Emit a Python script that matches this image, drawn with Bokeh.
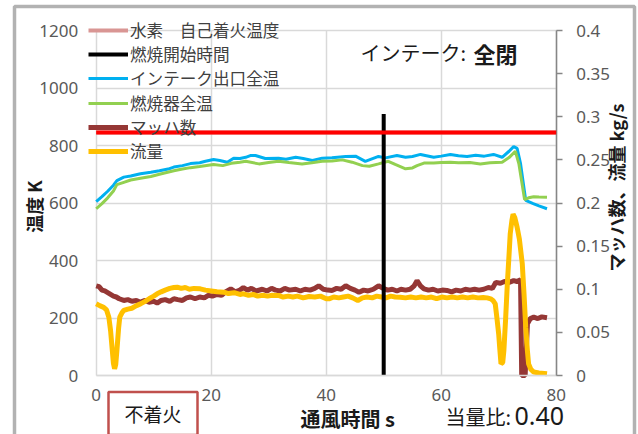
import math
from bokeh.plotting import figure
from bokeh.models import (Range1d, LinearAxis, FixedTicker, NumeralTickFormatter, Grid,
                          Legend, LegendItem, Label, BoxAnnotation)
from bokeh.embed import file_html
from bokeh.resources import INLINE

# ---------------- data ----------------
inlet_t = [0, 1, 2, 3, 3.6, 4.8, 6, 7.7, 9.5, 11, 12.5, 13.5, 15, 16.4, 18, 19, 20.4, 21.5,
           22.8, 23.9, 25, 26, 26.8, 27.7, 29.4, 31.7, 33, 34.7, 36, 37.6, 39.3, 41, 43.4,
           45.1, 46.8, 49.1, 50.3, 52.3, 53.8, 55, 56.4, 58.7, 60, 61.6, 63, 64.5, 66, 67.5,
           69.1, 70.6, 71.8, 72.6, 73.2, 73.8, 74.7, 76, 77, 78.4]
inlet_T = [605, 622, 641, 662, 678, 690, 694, 702, 707, 712, 718, 725, 730, 737, 740, 745, 751, 748,
           742, 756, 755, 759, 765, 765, 755, 756, 752, 759, 755, 748, 756, 757, 762,
           763, 745, 762, 757, 765, 759, 762, 769, 759, 763, 769, 764, 762, 766, 763,
           769, 759, 780, 796, 790, 737, 609, 598, 590, 580]

comb_t = [0, 1, 2, 3, 3.6, 4.8, 6, 7.7, 9.5, 11, 13.5, 15, 16.4, 18, 20.4, 22, 23.5, 25, 26,
          28.3, 30, 31.7, 33.5, 35.8, 37.5, 39.3, 41, 42.8, 44.5, 46.3, 47.5, 49.1, 50.8, 52,
          53.8, 55, 55.8, 57, 58.7, 60, 61.6, 63, 65, 66.8, 68.5, 70.6, 71.8, 72.9, 73.5,
          74.5, 75.2, 76.1, 77, 78.4]
comb_T = [580, 598, 618, 642, 664, 672, 680, 686, 692, 700, 712, 718, 723, 727, 734, 730, 738, 742, 745,
          736, 741, 745, 741, 736, 740, 745, 746, 750, 742, 730, 728, 736, 745, 734,
          719, 722, 730, 739, 739, 741, 742, 740, 741, 736, 740, 742, 758, 780, 737,
          612, 618, 622, 621, 620]

mach_t = [0, 0.5, 1.0, 1.5, 2.0, 2.5, 3.0, 3.5, 4.0, 4.8, 5.5, 6.2, 7.0, 7.7, 8.5, 9.2, 10.0, 10.6,
          11.3, 12.0, 12.8, 13.5, 14.2, 15.0, 15.7, 16.4, 17.2, 18.0, 18.8, 19.5, 20.2, 21.0, 21.8,
          22.5, 23.4, 24.2, 25.0, 25.6, 26.3, 27.0, 27.8, 28.9, 29.7, 30.5, 31.2, 32.0, 32.8, 33.6,
          34.7, 35.5, 36.3, 37.2, 38.0, 38.7, 39.5, 40.3, 41.0, 41.8, 42.6, 43.4, 44.2, 45.0, 45.7,
          46.5, 47.3, 48.2, 49.1, 49.9, 50.7, 51.5, 52.3, 53.0, 53.8, 54.6, 55.3, 55.8, 56.4, 57.0,
          57.8, 58.6, 59.4, 60.2, 61.0, 61.8, 62.6, 63.4, 64.2, 65.0, 65.8, 66.6, 67.4, 68.2, 68.9,
          69.5, 70.3, 71.0, 71.8, 72.6, 73.2, 73.8, 74.0, 74.6, 75.0, 75.5, 76.1, 76.8, 77.5, 78.4]
mach_M = [0.104, 0.103, 0.099, 0.098, 0.096, 0.094, 0.092, 0.091, 0.089, 0.087, 0.088, 0.086, 0.087,
          0.085, 0.087, 0.085, 0.086, 0.084, 0.087, 0.088, 0.086, 0.089, 0.088, 0.087, 0.090, 0.091,
          0.089, 0.091, 0.090, 0.093, 0.092, 0.094, 0.093, 0.097, 0.1005, 0.097, 0.099, 0.102, 0.099,
          0.101, 0.098, 0.100, 0.098, 0.101, 0.099, 0.098, 0.101, 0.099, 0.100, 0.098, 0.100, 0.099,
          0.101, 0.104, 0.100, 0.099, 0.0986, 0.101, 0.100, 0.104, 0.101, 0.099, 0.0966, 0.099, 0.098,
          0.100, 0.104, 0.101, 0.099, 0.100, 0.098, 0.100, 0.099, 0.100, 0.104, 0.110, 0.104, 0.1005,
          0.099, 0.100, 0.098, 0.099, 0.0986, 0.097, 0.099, 0.098, 0.100, 0.099, 0.100, 0.099, 0.100,
          0.102, 0.101, 0.108, 0.107, 0.109, 0.108, 0.110, 0.109, 0.111, 0.0, 0.0, 0.060, 0.066,
          0.0676, 0.066, 0.068, 0.067]

flow_t = [0, 0.6, 1.3, 1.8, 2.2, 2.5, 2.8, 3.0, 3.2, 3.4, 3.6, 3.9, 4.1, 4.5, 4.8, 5.5, 6.2, 7.0,
          7.7, 8.5, 9.2, 10.0, 10.6, 11.3, 12.0, 12.8, 13.5, 14.1, 14.8, 15.5, 16.2, 17.0, 18.1,
          19.0, 20.0, 21.0, 22.2, 23.0, 24.0, 25.0, 25.6, 26.5, 27.3, 28.1, 29.0, 29.8, 30.6, 31.7,
          32.5, 33.4, 34.2, 35.0, 36.0, 37.0, 38.0, 39.0, 40.0, 40.5, 41.3, 42.2, 43.0, 43.8, 44.6,
          45.5, 46.3, 47.1, 48.0, 48.8, 49.6, 50.4, 51.2, 52.0, 52.9, 53.8, 54.7, 55.6, 56.5, 57.4,
          58.3, 59.2, 60.1, 61.0, 61.9, 62.8, 63.7, 64.6, 65.5, 66.4, 67.3, 68.0, 68.6, 69.0, 69.4,
          69.7, 70.0, 70.2, 70.4, 70.7, 70.9, 71.2, 71.5, 71.8, 72.0, 72.3, 72.5, 72.8, 73.2, 73.6,
          74.1, 74.4, 74.7, 75.0, 75.2, 75.6, 76.1, 77.0, 78.4]
flow_F = [0.0831, 0.081, 0.079, 0.076, 0.0676, 0.052, 0.029, 0.014, 0.0078, 0.013, 0.029, 0.055,
          0.0676, 0.073, 0.0754, 0.077, 0.078, 0.081, 0.083, 0.086, 0.089, 0.092, 0.0947, 0.097,
          0.099, 0.101, 0.102, 0.1024, 0.101, 0.102, 0.100, 0.101, 0.1005, 0.099, 0.098, 0.097,
          0.0966, 0.095, 0.096, 0.094, 0.0947, 0.093, 0.094, 0.092, 0.093, 0.092, 0.093, 0.0928,
          0.091, 0.092, 0.091, 0.092, 0.090, 0.0916, 0.091, 0.092, 0.089, 0.0889, 0.091, 0.090,
          0.091, 0.092, 0.090, 0.087, 0.090, 0.091, 0.090, 0.092, 0.091, 0.090, 0.092, 0.091,
          0.0908, 0.090, 0.091, 0.090, 0.091, 0.090, 0.091, 0.089, 0.091, 0.090, 0.091, 0.090,
          0.091, 0.090, 0.091, 0.090, 0.0905, 0.090, 0.0889, 0.087, 0.083, 0.066, 0.048, 0.030,
          0.0135, 0.015, 0.029, 0.065, 0.106, 0.140, 0.164, 0.180, 0.187, 0.183, 0.172, 0.158,
          0.1295, 0.095, 0.056, 0.028, 0.0135, 0.007, 0.004, 0.003, 0.002]

time_span = [0, 80]              # s, extent of the autoignition line
h2_autoignition_T = [845, 845]   # K
ignition_start_t = [50.0, 50.0]  # s
ignition_line_T = [0, 910]       # K

series_labels = ["水素　自己着火温度", "燃焼開始時間", "インテーク出口全温", "燃焼器全温", "マッハ数", "流量"]
x_ticks = [0, 20, 40, 60, 80]
y_ticks = [0, 200, 400, 600, 800, 1000, 1200]
r_ticks = [0, 0.05, 0.1, 0.15, 0.2, 0.25, 0.3, 0.35, 0.4]
x_bounds = (0, 80)
y_bounds = (0, 1200)
r_bounds = (0, 0.4)

JP = "Noto Sans CJK JP"
NUM = "Noto Sans"

# ---------------- layout (pixel geometry of the plot area) ----------------
W, H = 638, 434
PX0, PXW = 95.7, 460.0     # plot area left / width in px
PY0, PYH = 375.0, 345.0    # plot area bottom / height in px

def sx(px):  # screen px -> x data
    return x_bounds[0] + (px - PX0) / PXW * (x_bounds[1] - x_bounds[0])

def sy(py):  # screen py -> y data
    return y_bounds[0] + (PY0 - py) / PYH * (y_bounds[1] - y_bounds[0])

def sr(py):
    return r_bounds[0] + (PY0 - py) / PYH * (r_bounds[1] - r_bounds[0])

p = figure(width=W, height=H, x_range=Range1d(sx(0), sx(W)), y_range=Range1d(sy(H), sy(0)),
           output_backend="svg", toolbar_location=None,
           min_border_left=0, min_border_right=0, min_border_top=0, min_border_bottom=0)
p.extra_y_ranges = {"r": Range1d(sr(H), sr(0))}
p.outline_line_color = None
p.background_fill_color = "white"
p.border_fill_color = "white"

# axes drawn at fixed data locations inside the full-canvas frame
xa, ya = p.xaxis[0], p.yaxis[0]
xa.fixed_location = y_bounds[0]
ya.fixed_location = x_bounds[0]
xa.bounds = x_bounds
ya.bounds = y_bounds
xa.ticker = FixedTicker(ticks=x_ticks)
ya.ticker = FixedTicker(ticks=y_ticks)
for ax in (xa, ya):
    ax.major_tick_line_color = None
    ax.minor_tick_line_color = None
    ax.major_tick_out = 0
    ax.major_tick_in = 0
    ax.major_label_text_font = NUM
    ax.major_label_text_font_size = "17px"
    ax.major_label_text_color = "#595959"
ya.axis_line_color = None
xa.axis_line_color = "#D9D9D9"
xa.axis_line_width = 1.5
ya.major_label_standoff = 18
xa.major_label_standoff = 13

raxis = LinearAxis(y_range_name="r", ticker=FixedTicker(ticks=r_ticks),
                   formatter=NumeralTickFormatter(format="0.[00]"),
                   fixed_location=x_bounds[1], bounds=r_bounds)
raxis.axis_line_color = "#868686"
raxis.axis_line_width = 1.5
raxis.major_tick_line_color = "#868686"
raxis.major_tick_line_width = 1.5
raxis.major_tick_out = 6
raxis.major_tick_in = 0
raxis.minor_tick_line_color = None
raxis.major_label_standoff = 14
raxis.major_label_text_font = NUM
raxis.major_label_text_font_size = "17px"
raxis.major_label_text_color = "#595959"
p.add_layout(raxis, "right")

# grid limited to the plot area
GRID_C = "#D9D9D9"
if "cross_bounds" in Grid.properties():
    for g, b, cb in ((p.xgrid[0], x_bounds, y_bounds), (p.ygrid[0], y_bounds, x_bounds)):
        g.bounds = b
        g.cross_bounds = cb
        g.grid_line_color = GRID_C
        g.grid_line_width = 1.5
else:
    p.xgrid.visible = False
    p.ygrid.visible = False
    p.segment(x0=x_ticks, x1=x_ticks, y0=[y_bounds[0]] * len(x_ticks), y1=[y_bounds[1]] * len(x_ticks),
              line_color=GRID_C, line_width=1.5, level="underlay")
    p.segment(x0=[x_bounds[0]] * len(y_ticks), x1=[x_bounds[1]] * len(y_ticks), y0=y_ticks, y1=y_ticks,
              line_color=GRID_C, line_width=1.5, level="underlay")

# ---------------- glyphs ----------------
# legend swatch colour for the autoignition line (hidden beneath the red overlay line)
r_h2 = p.line(time_span, h2_autoignition_T, line_color="#D99694", line_width=4)
r_blue = p.line(inlet_t, inlet_T, line_color="#00B0F0", line_width=3)
r_green = p.line(comb_t, comb_T, line_color="#92D050", line_width=3)
r_mach = p.line(mach_t, mach_M, line_color="#953735", line_width=5, y_range_name="r")
r_flow = p.line(flow_t, flow_F, line_color="#FFC000", line_width=5, y_range_name="r")
r_black = p.line(ignition_start_t, ignition_line_T, line_color="black", line_width=4)
p.line(time_span, h2_autoignition_T, line_color="#FF0000", line_width=4, level="overlay")

# one single-item legend per row, so rows sit 24 px apart
LEG_FONT = 16.6
LEG_ROW_H = 24
row_centers = [30 + 24.2 * i for i in range(6)]
for lbl, rend, c in zip(series_labels, [r_h2, r_black, r_blue, r_green, r_mach, r_flow], row_centers):
    lg = Legend(items=[LegendItem(label=lbl, renderers=[rend])],
                location=(88, H - (c + LEG_ROW_H / 2)))
    lg.label_text_font = JP
    lg.label_text_font_size = f"{LEG_FONT}px"
    lg.label_text_color = "#404040"
    lg.label_height = 24
    lg.glyph_height = 24
    lg.glyph_width = 40
    lg.label_standoff = 2
    lg.spacing = 0
    lg.padding = 0
    lg.margin = 0
    lg.background_fill_alpha = 0
    lg.border_line_alpha = 0
    p.add_layout(lg, "center")

# ---------------- texts ----------------
def lab(text, px, py, size, bold=False, angle=0, align="left", color="#1A1A1A", font=JP, **kw):
    l = Label(text=text, x=sx(px), y=sy(py), text_font=font, text_font_size=size,
              text_font_style="bold" if bold else "normal", angle=angle,
              text_align=align, text_baseline="middle", text_color=color, **kw)
    p.add_layout(l)
    return l

lab("インテーク:", 360, 52, "20px")
lab("全閉", 473, 52, "22px", bold=True)
lab("温度 K", 33, 206, "18px", bold=True, angle=math.pi / 2, align="center")
lab("マッハ数、流量 kg/s", 615, 187, "18px", bold=True, angle=math.pi / 2, align="center")
lab("通風時間 s", 300, 418, "20px", bold=True)
lab("当量比:", 445, 416, "20px")
lab("0.40", 514, 415, "25px", font=NUM)
lab("不着火", 152.5, 413, "19px", align="center",
    border_line_color="#C0504D", border_line_width=2.5, background_fill_color="white",
    padding=dict(left=16, right=16, top=8, bottom=8))

# outer chart border
p.add_layout(BoxAnnotation(left=sx(14), right=sx(634), top=sy(6), bottom=sy(H + 20),
                           fill_alpha=0, line_color="black", line_width=3.5))

open("out.html", "w").write(file_html(p, INLINE))
